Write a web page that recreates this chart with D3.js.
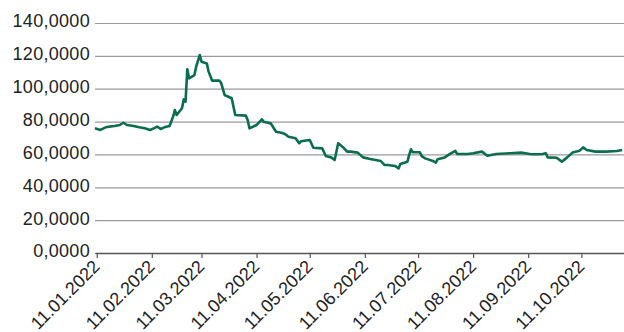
<!DOCTYPE html>
<html>
<head>
<meta charset="utf-8">
<script src="https://cdn.jsdelivr.net/npm/d3@7"></script>
<style>
  body { margin: 0; background: #fff; }
  text { font-family: "Liberation Sans", Arial, sans-serif; fill: #222; }
</style>
</head>
<body>
<div id="chart"></div>
<script>
// values
const dates = [
  "2022-01-10","2022-01-13","2022-01-16","2022-01-18","2022-01-21","2022-01-24","2022-01-26","2022-01-28",
  "2022-01-31","2022-02-04","2022-02-07","2022-02-10","2022-02-13","2022-02-14","2022-02-16","2022-02-18",
  "2022-02-21","2022-02-23","2022-02-24","2022-02-25","2022-02-28","2022-03-01","2022-03-02","2022-03-03",
  "2022-03-04","2022-03-07","2022-03-08","2022-03-10","2022-03-11","2022-03-14","2022-03-15","2022-03-17",
  "2022-03-21","2022-03-22","2022-03-24","2022-03-28","2022-03-30","2022-04-05","2022-04-06","2022-04-07",
  "2022-04-11","2022-04-14","2022-04-15","2022-04-19","2022-04-22","2022-04-25","2022-04-27","2022-04-29",
  "2022-05-03","2022-05-05","2022-05-06","2022-05-11","2022-05-13","2022-05-18","2022-05-20","2022-05-23",
  "2022-05-25","2022-05-27","2022-05-30","2022-06-01","2022-06-03","2022-06-07","2022-06-10","2022-06-14",
  "2022-06-17","2022-06-20","2022-06-22","2022-06-24","2022-06-28","2022-06-30","2022-07-01","2022-07-05",
  "2022-07-06","2022-07-07","2022-07-08","2022-07-12","2022-07-13","2022-07-15","2022-07-19","2022-07-21",
  "2022-07-22","2022-07-26","2022-07-29","2022-08-01","2022-08-02","2022-08-08","2022-08-11","2022-08-16",
  "2022-08-19","2022-08-24","2022-09-01","2022-09-07","2022-09-12","2022-09-15","2022-09-19","2022-09-21",
  "2022-09-22","2022-09-27","2022-09-30","2022-10-03","2022-10-06","2022-10-10","2022-10-12","2022-10-14",
  "2022-10-19","2022-10-25","2022-10-31","2022-11-03"
]
const values = [
  75.9, 74.9, 76.5, 76.9, 77.3, 77.9, 79.3, 77.9,
  77.5, 76.5, 75.9, 74.9, 76.3, 76.9, 75.5, 76.5,
  77.3, 83.0, 87.0, 84.0, 88.1, 93.5, 92.1, 111.8,
  106.3, 108.3, 113.4, 120.5, 116.4, 115.4, 110.4, 104.9,
  104.9, 103.7, 96.2, 94.2, 84.0, 83.6, 80.9, 75.9,
  77.9, 81.4, 79.9, 78.9, 73.8, 73.2, 72.4, 70.8,
  69.8, 66.8, 68.0, 68.8, 64.1, 63.7, 59.0, 58.2,
  56.6, 66.8, 64.1, 61.7, 61.7, 61.1, 58.2, 57.2,
  56.6, 56.0, 53.6, 53.6, 53.0, 51.5, 54.2, 55.6,
  59.7, 63.1, 61.3, 61.3, 59.0, 57.6, 56.2, 55.0,
  57.0, 58.2, 60.3, 62.1, 60.3, 60.3, 60.7, 61.7,
  59.2, 60.3, 60.7, 61.1, 60.3, 60.1, 60.3, 60.7,
  58.2, 58.0, 55.6, 58.2, 61.1, 62.3, 64.3, 62.7,
  61.7, 61.7, 62.1, 62.7
]
const yTicks = [0, 20, 40, 60, 80, 100, 120, 140]
const xTickDates = ["2022-01-11","2022-02-11","2022-03-11","2022-04-11","2022-05-11",
  "2022-06-11","2022-07-11","2022-08-11","2022-09-11","2022-10-11"]

const width = 624
const height = 332
const margin = { top: 23, right: 0, bottom: 79, left: 95 }

const parse = d3.timeParse("%Y-%m-%d")
const data = dates.map((d, i) => ({ date: parse(d), value: values[i] }))

const svg = d3.select("#chart")
  .append("svg")
  .attr("width", width)
  .attr("height", height)

const x = d3.scaleTime()
  .domain([parse("2022-01-10"), parse("2022-11-04")])
  .range([margin.left, width - margin.right])

const y = d3.scaleLinear()
  .domain([0, 140])
  .range([height - margin.bottom, margin.top])

const locale = d3.formatLocale({ decimal: ",", thousands: ".", grouping: [3], currency: ["", ""] })
const fmtY = locale.format(".4f")

// gridlines + y labels
const yAxis = svg.append("g")
  .attr("transform", `translate(${margin.left},0)`)
  .call(d3.axisLeft(y).tickValues(yTicks).tickFormat(fmtY).tickSize(0).tickPadding(5))
yAxis.select(".domain").remove()
yAxis.selectAll("text")
  .style("font-size", "18px")
  .style("letter-spacing", "0.3px")
  .attr("dy", "0.22em")
yAxis.selectAll(".tick line")
  .attr("x2", width - margin.left)
  .attr("stroke", "#9a9a9a")
  .attr("stroke-width", 1.2)

// x axis
const xAxis = svg.append("g")
  .attr("transform", `translate(0,${height - margin.bottom})`)
  .call(d3.axisBottom(x)
    .tickValues(xTickDates.map(parse))
    .tickFormat(d3.timeFormat("%d.%m.%Y"))
    .tickSize(5)
    .tickSizeOuter(0))
xAxis.select(".domain").attr("stroke", "#555").attr("stroke-width", 1.5)
xAxis.selectAll(".tick line").attr("stroke", "#555").attr("stroke-width", 1.2)
xAxis.selectAll("text")
  .style("font-size", "18px")
  .attr("text-anchor", "end")
  .attr("dy", "0")
  .attr("transform", "translate(-2,9) rotate(-45)")

// the series line
const line = d3.line()
  .x(d => x(d.date))
  .y(d => y(d.value))

svg.append("path")
  .datum(data)
  .attr("fill", "none")
  .attr("stroke", "#0b6e4a")
  .attr("stroke-width", 2.6)
  .attr("stroke-linejoin", "round")
  .attr("d", line)
</script>
</body>
</html>
